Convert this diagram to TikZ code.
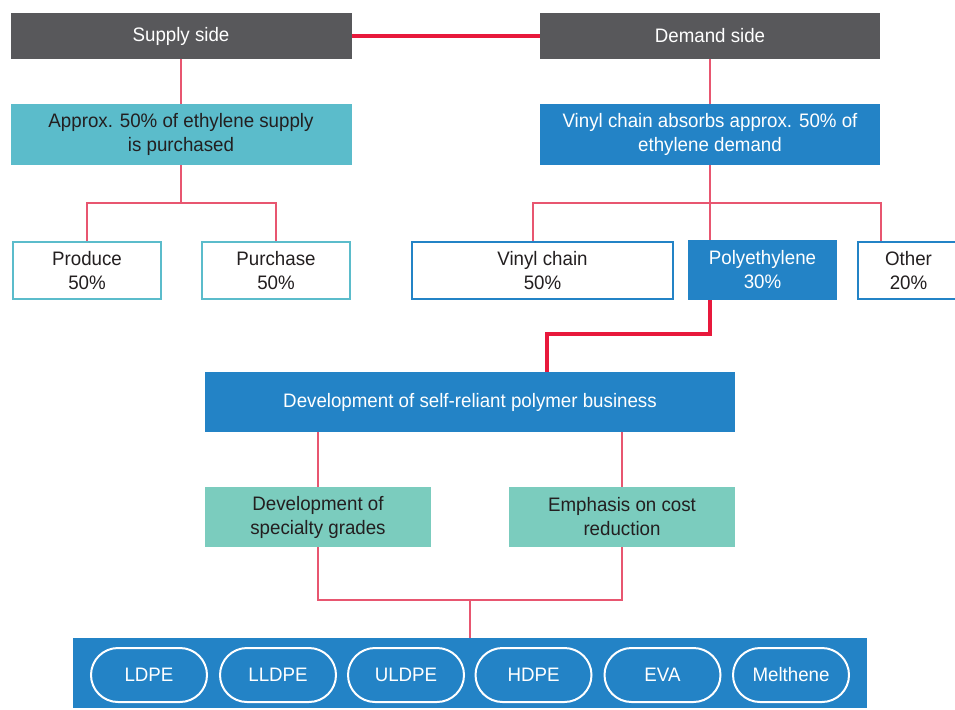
\documentclass[tikz,border=0pt]{standalone}
\usepackage{fontspec}
\setmainfont{Liberation Sans}[FakeStretch=0.96]
\usepackage{xcolor}
\usetikzlibrary{positioning, calc}

\definecolor{hdgray}{HTML}{58585B}
\definecolor{suppteal}{HTML}{5BBCCB}
\definecolor{dmdblue}{HTML}{2383C6}
\definecolor{polygreen}{HTML}{7BCCBE}
\definecolor{linkred}{HTML}{E8193C}
\definecolor{thinred}{HTML}{E85670}
\definecolor{txtdark}{HTML}{231F20}

\begin{document}
\begin{tikzpicture}[
  x=1pt, y=-1pt,
  every node/.style = {font=\fontsize{19.5}{24}\selectfont, align=center,
                       inner sep=0pt, text=txtdark},
  head/.style    = {fill=hdgray, text=white, minimum height=46pt},
  solid/.style   = {fill=#1, minimum height=60pt},
  frame/.style   = {draw=#1, line width=2pt, fill=white, minimum height=57pt},
  pill/.style    = {draw=white, line width=2pt, rounded corners=27pt,
                    minimum width=116pt, minimum height=54pt, text=white},
  link/.style    = {draw=thinred, line width=1.5pt},
  bond/.style    = {draw=linkred, line width=4pt}
]

% -- Bounding box ------------------------------------------------------------
\useasboundingbox (0,0) rectangle (955,709);

% -- Headers -----------------------------------------------------------------
\node[head, minimum width=341pt] (supply) at (181,36) {Supply side};
\node[head, minimum width=340pt] (demand) at (710,36) {Demand side};

% -- Second row --------------------------------------------------------------
\node[solid=suppteal, minimum width=341pt, minimum height=61pt]
  (supplybox) at (181,134.5) {Approx. 50\% of ethylene supply\\is purchased};
\node[solid=dmdblue, text=white, minimum width=340pt, minimum height=61pt]
  (demandbox) at (710,134.5) {Vinyl chain absorbs approx. 50\% of\\ethylene demand};

% -- Third row ---------------------------------------------------------------
\node[frame=suppteal, minimum width=148pt] (produce)  at (87,270.5)    {Produce\\50\%};
\node[frame=suppteal, minimum width=148pt] (purchase) at (276,270.5)   {Purchase\\50\%};
\node[frame=dmdblue,  minimum width=261pt] (vinyl)    at (542.5,270.5) {Vinyl chain\\50\%};
\node[solid=dmdblue, text=white, minimum width=149pt] (poly) at (762.5,270) {Polyethylene\\30\%};
\node[frame=dmdblue,  minimum width=101pt] (other)    at (908.5,270.5) {Other\\20\%};

% -- Polymer business --------------------------------------------------------
\node[solid=dmdblue, text=white, minimum width=530pt] (devel) at (470,402)
  {Development of self-reliant polymer business};
\node[solid=polygreen, minimum width=226pt] (spec) at (318,517)
  {Development of\\specialty grades};
\node[solid=polygreen, minimum width=226pt] (cost) at (622,517)
  {Emphasis on cost\\reduction};

% -- Product band ------------------------------------------------------------
\node[fill=dmdblue, minimum width=794pt, minimum height=70pt] (band) at (470,673) {};
\foreach \n/\x/\t in {ldpe/149/LDPE, lldpe/278/LLDPE, uldpe/406/ULDPE,
                      hdpe/533.5/HDPE, eva/662.5/EVA, mel/791/Melthene}
  \node[pill] (\n) at (\x,675) {\t};

% -- Connectors --------------------------------------------------------------
\draw[bond] (supply) -- (demand);
\draw[link] (supply) -- (supplybox);
\draw[link] (supplybox.south) -- ++(0,38) -| (produce.north);
\draw[link] (supplybox.south) ++(0,38) -| (purchase.north);
\draw[link] (demand) -- (demandbox);
\draw[link] (demandbox.south) -- (demandbox.south |- poly.north);
\draw[link] ([xshift=-9.5pt]vinyl.north) |- ($(demandbox.south)+(0,38)$)
            -| ([xshift=-27.5pt]other.north);
\draw[bond] (poly.south -| demandbox.south) -- ++(0,34)
            -| ([xshift=77pt]devel.north);
\foreach \t in {spec, cost}
  \draw[link] (devel.south -| \t) -- (\t.north);
\draw[link] (spec.south) -- ++(0,53) -| (cost.south);
\draw[link] (band.north) -- ++(0,-38);

\end{tikzpicture}
\end{document}
